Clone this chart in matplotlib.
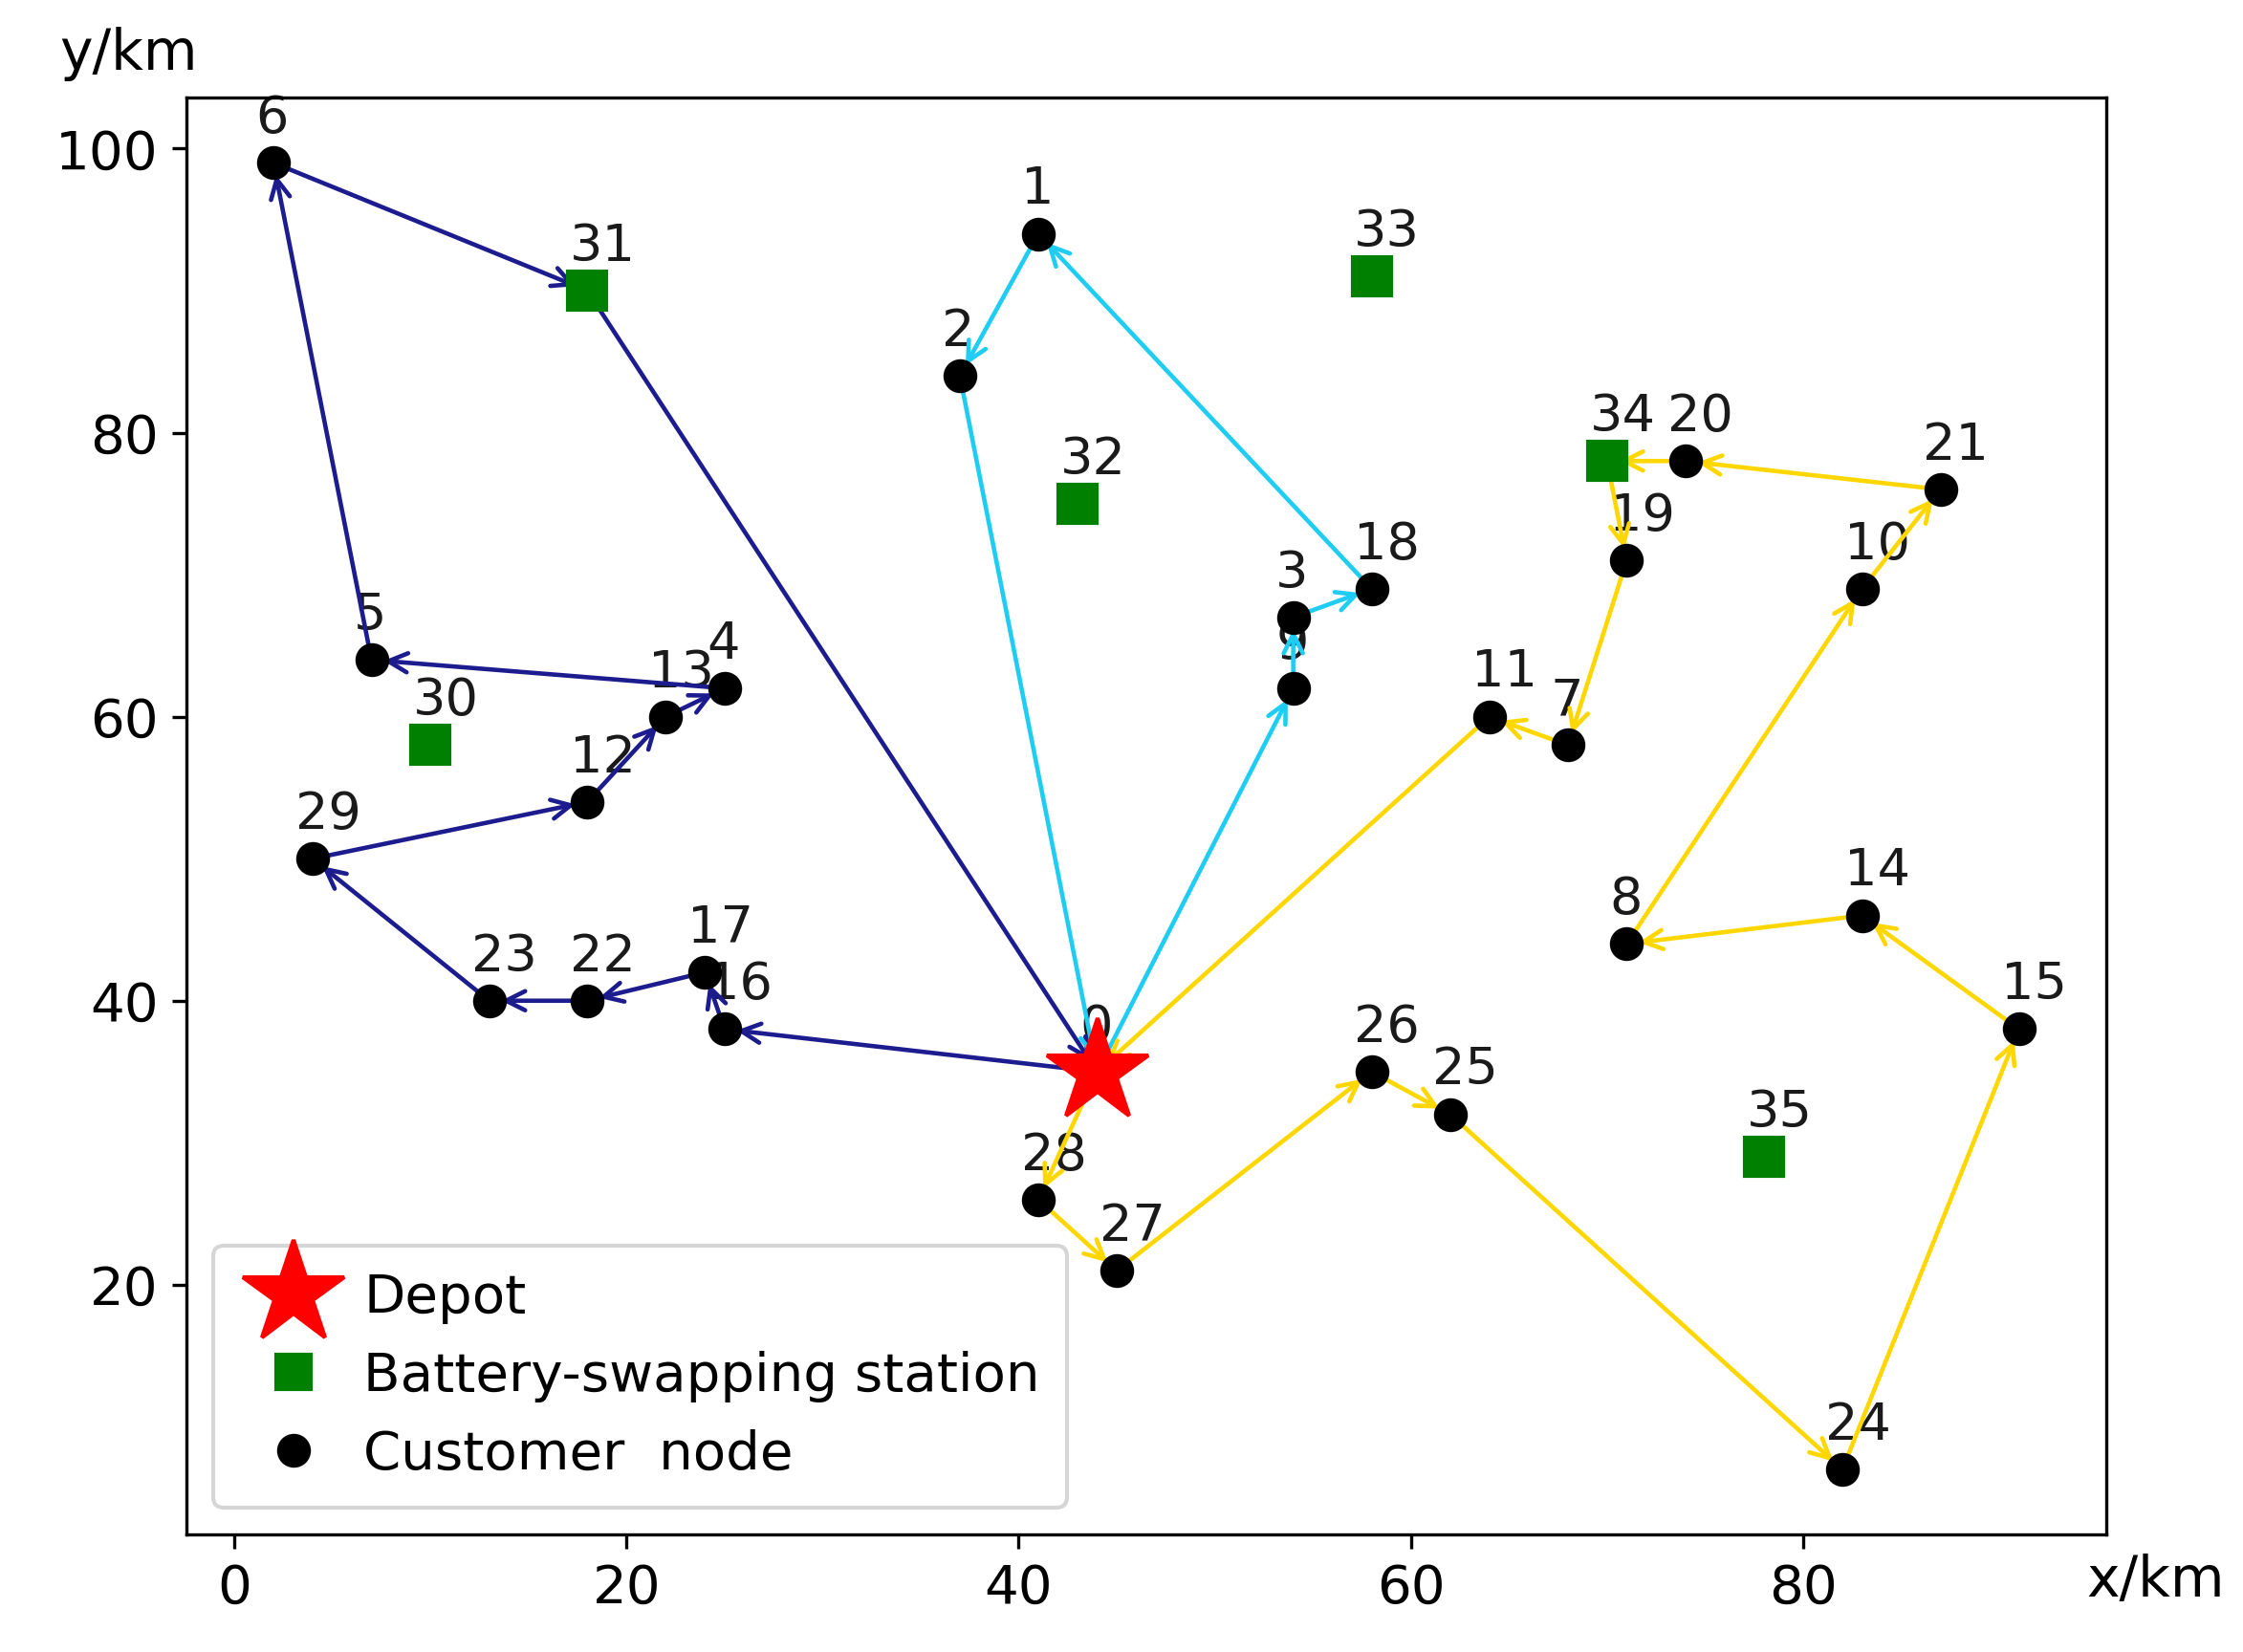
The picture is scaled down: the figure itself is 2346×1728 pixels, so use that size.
import matplotlib
matplotlib.use("Agg")
import matplotlib.pyplot as plt
from matplotlib.lines import Line2D

# node coordinates (km)
depot = (44, 35)
cust_id = list(range(1, 30))
cust_x = [41, 37, 54, 25, 7, 2, 68, 71, 54, 83, 64, 18, 22, 83, 91, 25, 24, 58, 71, 74,
          87, 18, 13, 82, 62, 58, 45, 41, 4]
cust_y = [94, 84, 67, 62, 64, 99, 58, 44, 62, 69, 60, 54, 60, 46, 38, 38, 42, 69, 71, 78,
          76, 40, 40, 7, 32, 35, 21, 26, 50]
stat_id = [30, 31, 32, 33, 34, 35]
stat_x = [10, 18, 43, 58, 70, 78]
stat_y = [58, 90, 75, 91, 78, 29]

routes = [
    [0, 16, 17, 22, 23, 29, 12, 13, 4, 5, 6, 31, 0],
    [0, 9, 3, 18, 1, 2, 0],
    [0, 28, 27, 26, 25, 24, 15, 14, 8, 10, 21, 20, 34, 19, 7, 11, 0],
]
route_colors = ['#1c1c8f', '#1fcdf2', '#ffd700']

pos = {0: depot}
for i, x, y in zip(cust_id, cust_x, cust_y):
    pos[i] = (x, y)
for i, x, y in zip(stat_id, stat_x, stat_y):
    pos[i] = (x, y)

fig = plt.figure(figsize=(7.82, 5.76), dpi=300)
ax = fig.add_axes([0.083, 0.071, 0.856, 0.870])

# node labels (under the routes, like the original)
for i, (x, y) in pos.items():
    ax.text(x - 0.9, y + 2.1, str(i), fontsize=13, color='#1a1a1a', zorder=1)

for r, c in zip(routes, route_colors):
    for a, b in zip(r[:-1], r[1:]):
        ax.annotate('', xy=pos[b], xytext=pos[a],
                    arrowprops=dict(arrowstyle='->', color=c, lw=1.1,
                                    shrinkA=2, shrinkB=3, mutation_scale=12))

ax.plot(stat_x, stat_y, 's', color='green', ms=9.5, ls='none', zorder=3)
ax.plot(cust_x, cust_y, 'o', color='black', ms=7.5, ls='none', zorder=3)
ax.plot(depot[0], depot[1], '*', color='red', ms=27, ls='none', zorder=4)

handles = [
    Line2D([], [], marker='*', color='red', ms=27, ls='none'),
    Line2D([], [], marker='s', color='green', ms=8.5, ls='none'),
    Line2D([], [], marker='o', color='black', ms=7.5, ls='none'),
]
ax.legend(handles, ['Depot', 'Battery-swapping station', 'Customer  node'],
          loc='lower left', fontsize=13.5, borderpad=0.5, labelspacing=0.5,
          handletextpad=0.3)

ax.tick_params(labelsize=13.5)
ax.text(-0.03, 1.03, 'y/km', transform=ax.transAxes, fontsize=14,
        ha='center', va='center')
ax.text(1.026, -0.032, 'x/km', transform=ax.transAxes, fontsize=14,
        ha='center', va='center')

fig.savefig('out.png', dpi=300)
